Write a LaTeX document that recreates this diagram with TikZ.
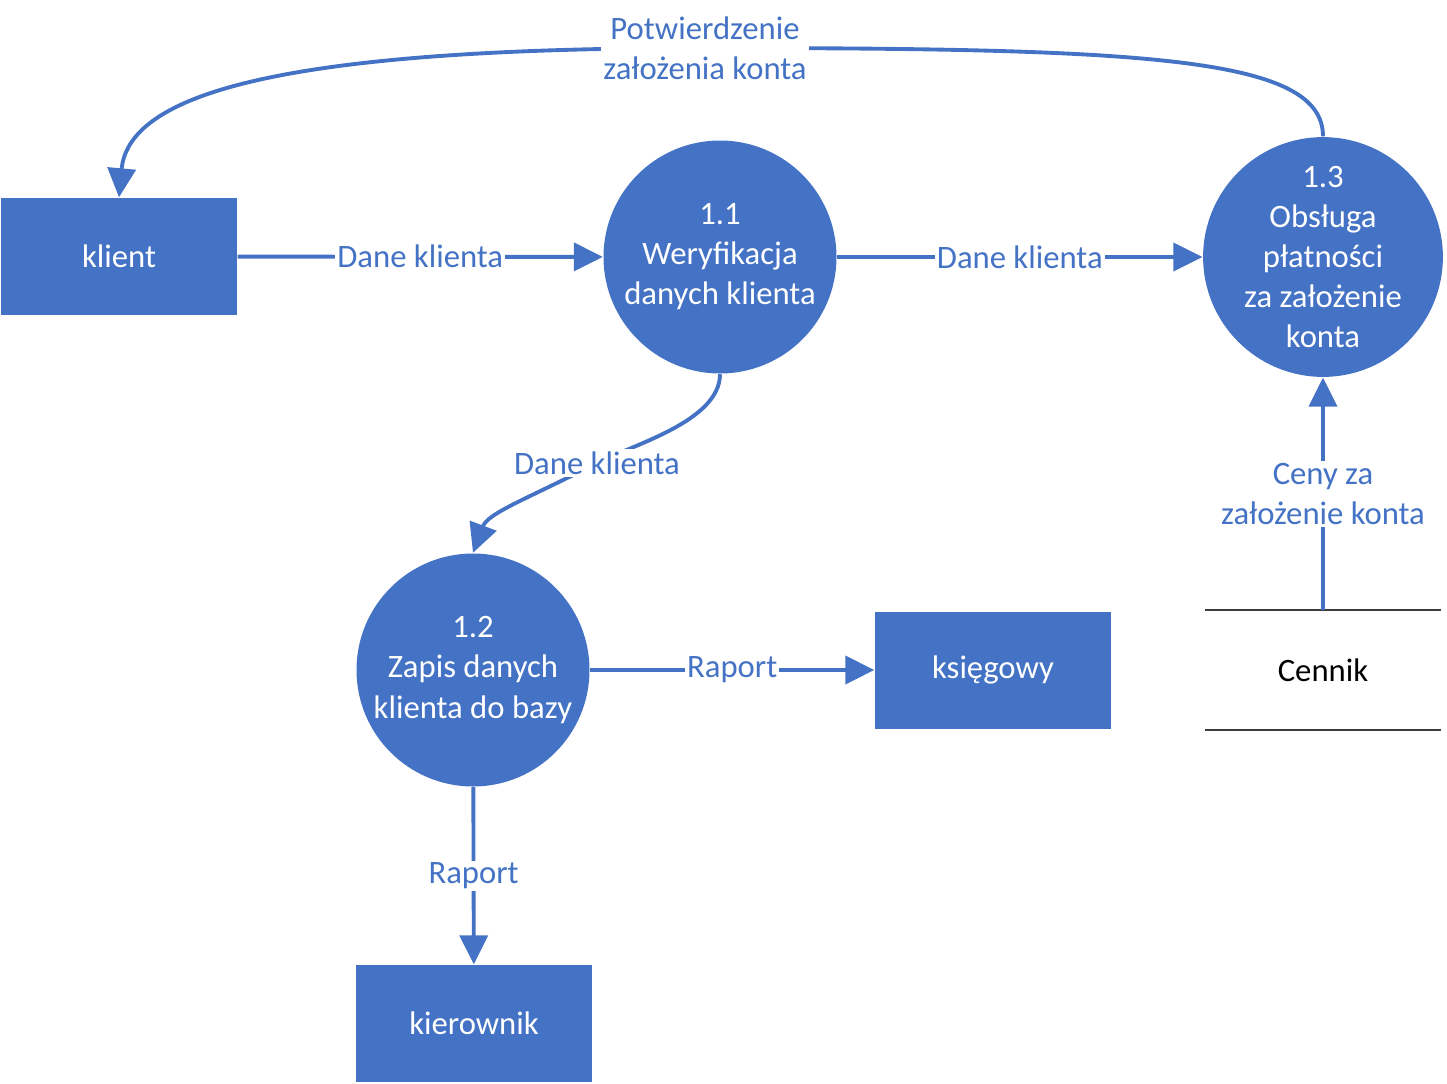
\documentclass[tikz,border=0pt]{standalone}
\usepackage{fontspec}
\setmainfont{Carlito}
\usetikzlibrary{arrows.meta}
\definecolor{dfdblue}{HTML}{4472C4}
\definecolor{storeline}{HTML}{3C3C3C}
\tikzset{
    txt/.style={font=\fontsize{9.3}{11.4}\selectfont, align=center},
    proc/.style={txt, circle, fill=dfdblue, text=white, minimum size=23.3mm, inner sep=0pt},
    ext/.style={txt, rectangle, fill=dfdblue, text=white, minimum width=23.6mm, minimum height=11.7mm, inner sep=0pt},
    lbl/.style={txt, fill=white, text=dfdblue, inner sep=0.6pt},
    flow/.style={draw=dfdblue, line width=1.1pt, -{Triangle[length=2.9mm, width=2.8mm]}}
}

\begin{document}
\begin{tikzpicture}[x=0.1mm, y=-0.1mm]
                \useasboundingbox (0,0) rectangle (1447,1084);

                %% processes
                \node[proc] (p11) at (720,257)  {1.1\\Weryfikacja\\danych klienta};
                \node[proc] (p12) at (473,670)  {1.2\\Zapis danych\\klienta do bazy};
                \node[proc] (p13) at (1323,257) {1.3\\Obsługa\\płatności\\za założenie\\konta};

                %% external entities
                \node[ext] (klient)    at (119,256.5)  {klient};
                \node[ext] (ksiegowy)  at (993,670)    {księgowy};
                \node[ext] (kierownik) at (474,1023.5) {kierownik};

                %% data store
                \node[txt, minimum width=23.5mm, minimum height=11.8mm, inner sep=0pt] (cennik) at (1323,670) {Cennik};
                \draw[storeline, line width=0.6pt] (cennik.north west) -- (cennik.north east);
                \draw[storeline, line width=0.6pt] (cennik.south west) -- (cennik.south east);

                %% flows
                \draw[flow] (klient) -- node[lbl] (dk1) {Dane klienta} (p11);
                \draw[flow] (p11) -- node[lbl] (dk2) {Dane klienta} (p13);
                \draw[flow] (p12) -- node[lbl] (rap1) {Raport} (ksiegowy);
                \draw[flow] (p12) -- node[lbl] (rap2) {Raport} (kierownik);
                \draw[flow] (cennik.north) -- node[lbl] (ceny) {Ceny za\\założenie konta} (p13.south);

                % 1.1 -> 1.2
                \draw[flow] (p11.south) .. controls +(0,47) and +(35,-18) .. (597,463)
                    node[lbl] (dk3) {Dane klienta}
                    .. controls +(-70,36) and +(15,-40) .. (p12.north);

                % 1.3 -> klient
                \draw[flow] (p13.north) .. controls +(0,-79) and +(445,0) .. (705,48)
                    node[lbl] (ack) {Potwierdzenie\\założenia konta}
                    .. controls +(-405,0) and +(10,-108) .. (klient.north);

            \end{tikzpicture}
\end{document}
